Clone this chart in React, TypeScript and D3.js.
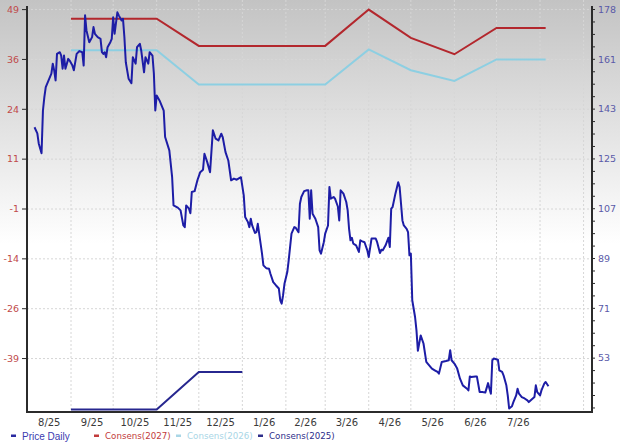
import * as d3 from 'd3';
import React from 'react';

// month labels shown under the x axis, one per month
const monthLabels = ['8/25', '9/25', '10/25', '11/25', '12/25', '1/26', '2/26', '3/26', '4/26', '5/26', '6/26', '7/26'];

// left axis (consensus) tick values and their printed labels
const leftTickValues = [49, 36.5, 24, 11.5, -1, -13.5, -26, -38.5];
const leftTickLabels = ['49', '36', '24', '11', '-1', '-14', '-26', '-39'];

// right axis (price) tick values and their printed labels
const rightTickValues = [178.4, 160.55, 142.7, 124.85, 107, 89.15, 71.3, 53.45];
const rightTickLabels = ['178', '161', '143', '125', '107', '89', '71', '53'];

const consens2027: [string, number][] = [
  ['2025-09-01', 46.7], ['2025-11-01', 46.7], ['2025-12-01', 39.9], ['2026-03-01', 39.9],
  ['2026-04-01', 49.0], ['2026-05-01', 41.9], ['2026-06-01', 37.8], ['2026-07-01', 44.4], ['2026-08-05', 44.4],
];
const consens2026: [string, number][] = [
  ['2025-09-01', 38.8], ['2025-11-01', 38.8], ['2025-12-01', 30.2], ['2026-03-01', 30.2],
  ['2026-04-01', 39.0], ['2026-05-01', 33.8], ['2026-06-01', 31.1], ['2026-07-01', 36.5], ['2026-08-05', 36.5],
];
const consens2025: [string, number][] = [
  ['2025-09-01', -51.3], ['2025-11-01', -51.3], ['2025-12-01', -41.9], ['2026-01-01', -41.9],
];

const priceDaily: [string, number][] = [
  ['2025-08-06', 136.2], ['2025-08-08', 134.0], ['2025-08-09', 130.4], ['2025-08-11', 126.9], ['2025-08-12', 142.2],
  ['2025-08-13', 147.0], ['2025-08-14', 150.6], ['2025-08-16', 153.0], ['2025-08-18', 155.4], ['2025-08-19', 159.0],
  ['2025-08-20', 156.6], ['2025-08-21', 153.0], ['2025-08-22', 162.5], ['2025-08-24', 163.1], ['2025-08-25', 161.9],
  ['2025-08-26', 157.2], ['2025-08-27', 161.9], ['2025-08-28', 157.2], ['2025-08-30', 160.7], ['2025-08-31', 160.1],
  ['2025-09-02', 158.3], ['2025-09-03', 156.6], ['2025-09-05', 162.5], ['2025-09-07', 163.5], ['2025-09-09', 163.1],
  ['2025-09-10', 158.3], ['2025-09-11', 176.3], ['2025-09-12', 170.9], ['2025-09-14', 166.7], ['2025-09-16', 168.5],
  ['2025-09-17', 172.1], ['2025-09-18', 169.7], ['2025-09-20', 168.5], ['2025-09-22', 167.9], ['2025-09-23', 163.1],
  ['2025-09-24', 162.5], ['2025-09-25', 163.1], ['2025-09-26', 161.3], ['2025-09-27', 164.9], ['2025-09-29', 166.7],
  ['2025-09-30', 167.9], ['2025-10-01', 175.6], ['2025-10-02', 169.7], ['2025-10-04', 177.4], ['2025-10-05', 176.3],
  ['2025-10-07', 174.5], ['2025-10-08', 175.1], ['2025-10-09', 168.5], ['2025-10-10', 159.5], ['2025-10-12', 153.6],
  ['2025-10-14', 152.0], ['2025-10-15', 161.3], ['2025-10-17', 159.0], ['2025-10-18', 164.9], ['2025-10-20', 166.1],
  ['2025-10-21', 163.7], ['2025-10-23', 155.9], ['2025-10-24', 161.3], ['2025-10-26', 159.0], ['2025-10-27', 163.1],
  ['2025-10-29', 161.9], ['2025-10-30', 155.4], ['2025-10-31', 142.2], ['2025-11-01', 147.6], ['2025-11-03', 145.8],
  ['2025-11-06', 142.2], ['2025-11-07', 132.7], ['2025-11-10', 127.9], ['2025-11-12', 118.3], ['2025-11-13', 108.2],
  ['2025-11-16', 107.4], ['2025-11-18', 106.4], ['2025-11-20', 101.0], ['2025-11-21', 100.4], ['2025-11-22', 108.2],
  ['2025-11-24', 107.0], ['2025-11-25', 105.4], ['2025-11-26', 113.0], ['2025-11-28', 113.3], ['2025-11-30', 117.2],
  ['2025-12-02', 120.1], ['2025-12-04', 121.0], ['2025-12-05', 126.7], ['2025-12-07', 123.7], ['2025-12-09', 120.1],
  ['2025-12-11', 135.1], ['2025-12-13', 132.1], ['2025-12-15', 131.5], ['2025-12-17', 133.9], ['2025-12-18', 132.7],
  ['2025-12-20', 127.3], ['2025-12-22', 124.3], ['2025-12-24', 117.2], ['2025-12-26', 117.8], ['2025-12-28', 117.4],
  ['2025-12-31', 118.3], ['2026-01-02', 111.8], ['2026-01-03', 104.0], ['2026-01-05', 102.2], ['2026-01-06', 100.4],
  ['2026-01-07', 103.4], ['2026-01-08', 101.0], ['2026-01-10', 98.3], ['2026-01-11', 98.6], ['2026-01-12', 101.6],
  ['2026-01-14', 94.5], ['2026-01-15', 90.9], ['2026-01-16', 86.7], ['2026-01-18', 85.7], ['2026-01-20', 85.5],
  ['2026-01-21', 83.7], ['2026-01-23', 80.7], ['2026-01-25', 79.5], ['2026-01-27', 78.4], ['2026-01-28', 74.2],
  ['2026-01-29', 73.0], ['2026-01-30', 76.0], ['2026-01-31', 80.1], ['2026-02-02', 84.3], ['2026-02-03', 88.5],
  ['2026-02-05', 98.1], ['2026-02-07', 100.4], ['2026-02-08', 100.2], ['2026-02-10', 98.6], ['2026-02-11', 108.8],
  ['2026-02-12', 111.2], ['2026-02-14', 113.3], ['2026-02-16', 113.6], ['2026-02-17', 113.6], ['2026-02-18', 103.4],
  ['2026-02-19', 113.6], ['2026-02-20', 105.2], ['2026-02-22', 103.4], ['2026-02-24', 100.4], ['2026-02-25', 92.1],
  ['2026-02-26', 90.9], ['2026-02-28', 95.0], ['2026-03-01', 98.1], ['2026-03-03', 101.0], ['2026-03-04', 114.8],
  ['2026-03-05', 110.6], ['2026-03-07', 111.2], ['2026-03-08', 110.6], ['2026-03-10', 107.8], ['2026-03-11', 102.8],
  ['2026-03-12', 113.6], ['2026-03-14', 112.4], ['2026-03-16', 109.4], ['2026-03-17', 106.4], ['2026-03-18', 99.8],
  ['2026-03-19', 95.7], ['2026-03-20', 96.6], ['2026-03-21', 94.5], ['2026-03-23', 93.9], ['2026-03-25', 91.5],
  ['2026-03-26', 95.7], ['2026-03-27', 95.4], ['2026-03-29', 95.0], ['2026-03-31', 92.1], ['2026-04-01', 89.7],
  ['2026-04-03', 96.3], ['2026-04-06', 96.3], ['2026-04-07', 95.0], ['2026-04-09', 91.1], ['2026-04-10', 92.3],
  ['2026-04-11', 92.1], ['2026-04-13', 93.9], ['2026-04-15', 96.6], ['2026-04-16', 93.3], ['2026-04-17', 107.0],
  ['2026-04-18', 107.6], ['2026-04-20', 112.4], ['2026-04-22', 116.5], ['2026-04-23', 114.8], ['2026-04-25', 102.8],
  ['2026-04-26', 101.0], ['2026-04-28', 99.8], ['2026-04-29', 98.6], ['2026-04-30', 90.3], ['2026-05-01', 90.9],
  ['2026-05-02', 74.2], ['2026-05-04', 68.2], ['2026-05-05', 63.4], ['2026-05-06', 56.1], ['2026-05-08', 61.6],
  ['2026-05-10', 58.7], ['2026-05-12', 52.1], ['2026-05-13', 51.5], ['2026-05-16', 49.7], ['2026-05-18', 49.1],
  ['2026-05-20', 48.5], ['2026-05-21', 47.9], ['2026-05-23', 52.1], ['2026-05-26', 52.4], ['2026-05-28', 52.7],
  ['2026-05-29', 56.3], ['2026-05-30', 52.7], ['2026-06-01', 51.5], ['2026-06-03', 49.7], ['2026-06-05', 46.1],
  ['2026-06-07', 43.7], ['2026-06-10', 42.5], ['2026-06-11', 41.9], ['2026-06-12', 46.9], ['2026-06-13', 46.7],
  ['2026-06-16', 46.9], ['2026-06-17', 46.9], ['2026-06-19', 41.3], ['2026-06-21', 41.3], ['2026-06-23', 41.1],
  ['2026-06-25', 44.5], ['2026-06-26', 42.5], ['2026-06-27', 40.7], ['2026-06-28', 52.7], ['2026-06-29', 53.3],
  ['2026-07-02', 52.9], ['2026-07-03', 49.1], ['2026-07-05', 48.5], ['2026-07-06', 47.3], ['2026-07-08', 43.7],
  ['2026-07-09', 40.1], ['2026-07-10', 35.4], ['2026-07-12', 36.2], ['2026-07-13', 37.7], ['2026-07-15', 40.1],
  ['2026-07-16', 42.5], ['2026-07-17', 40.7], ['2026-07-19', 39.5], ['2026-07-21', 39.0], ['2026-07-23', 38.3],
  ['2026-07-24', 37.7], ['2026-07-26', 38.6], ['2026-07-28', 39.5], ['2026-07-29', 43.7], ['2026-07-30', 41.3],
  ['2026-08-01', 40.1], ['2026-08-02', 41.9], ['2026-08-04', 44.3], ['2026-08-05', 44.9], ['2026-08-07', 43.4],
];

const width = 620;
const height = 443;
const left = 27;
const right = 592;
const top = 8;
const bottom = 412;

const parse = d3.utcParse('%Y-%m-%d');

const App = () => {
  const x = d3
    .scaleUtc()
    .domain([new Date(Date.UTC(2025, 7, 1)), new Date(Date.UTC(2026, 8, 7))])
    .range([left + 0.5, right]);
  const yLeft = d3.scaleLinear().domain([-51.9, 49.4]).range([bottom, top]);
  const yRight = d3.scaleLinear().domain([34.15, 178.94]).range([bottom, top]);

  const monthStarts = d3.utcMonth.range(new Date(Date.UTC(2025, 7, 1)), new Date(Date.UTC(2026, 8, 2)));
  const gridMonths = monthStarts.slice(1);

  const consLine = d3
    .line<[string, number]>()
    .x((d) => x(parse(d[0]) as Date))
    .y((d) => yLeft(d[1]));
  const priceLine = d3
    .line<[string, number]>()
    .x((d) => x(parse(d[0]) as Date))
    .y((d) => yRight(d[1]));

  const rightStep = (rightTickValues[0] - rightTickValues[1]) / 4;
  const minorTicks: number[] = [];
  for (let v = rightTickValues[0]; v >= yRight.domain()[0]; v -= rightStep) minorTicks.push(v);

  const legend = [
    { label: 'Price Daily', color: '#3b3bb0', mark: '#2a2aa0', x: 11, font: 'Liberation Sans', size: 10 },
    { label: 'Consens(2027)', color: '#c23b3b', mark: '#c23b3b', x: 94, font: 'DejaVu Sans', size: 8.7 },
    { label: 'Consens(2026)', color: '#a9d6e6', mark: '#a9d6e6', x: 176, font: 'DejaVu Sans', size: 8.7 },
    { label: 'Consens(2025)', color: '#2e2e8a', mark: '#2e2e8a', x: 258, font: 'DejaVu Sans', size: 8.7 },
  ];

  return (
    <svg width={width} height={height} style={{ position: 'absolute', left: 0, top: 0 }}>
      <defs>
        <linearGradient id="bg" x1="0" y1="0" x2="0" y2="1">
          <stop offset="0" stopColor="#c3c3c3" />
          <stop offset="0.55" stopColor="#ffffff" />
          <stop offset="1" stopColor="#ffffff" />
        </linearGradient>
      </defs>
      <rect width={width} height={height} fill="url(#bg)" />

      {/* grid */}
      {gridMonths.map((m, i) => (
        <line key={'vg' + i} x1={x(m)} x2={x(m)} y1={0} y2={bottom} stroke="#d6d6d6" strokeDasharray="2,2" />
      ))}
      {leftTickValues.map((v, i) => (
        <line key={'hg' + i} x1={left} x2={right} y1={yLeft(v)} y2={yLeft(v)} stroke="#d6d6d6" strokeDasharray="2,2" />
      ))}

      {/* consensus lines */}
      <path d={consLine(consens2027) || ''} fill="none" stroke="#b3272d" strokeWidth={2} />
      <path d={consLine(consens2026) || ''} fill="none" stroke="#8dcfe2" strokeWidth={2} />
      <path d={consLine(consens2025) || ''} fill="none" stroke="#27278f" strokeWidth={2} />

      {/* price */}
      <path d={priceLine(priceDaily) || ''} fill="none" stroke="#1d1da6" strokeWidth={2} strokeLinejoin="round" />

      {/* axes */}
      <line x1={left} x2={left} y1={6} y2={bottom + 1} stroke="#2b2b2b" strokeWidth={2} />
      <line x1={right} x2={right} y1={6} y2={bottom + 1} stroke="#2b2b2b" strokeWidth={2} />
      <line x1={left - 1} x2={right + 1} y1={bottom} y2={bottom} stroke="#2b2b2b" strokeWidth={2} />

      {leftTickValues.map((v, i) => (
        <g key={'lt' + i}>
          <line x1={left - 5} x2={left} y1={yLeft(v)} y2={yLeft(v)} stroke="#2b2b2b" />
          <text x={19} y={yLeft(v)} dy="0.35em" textAnchor="end" fontFamily="DejaVu Sans" fontSize={9.5} fill="#c04a4a">
            {leftTickLabels[i]}
          </text>
        </g>
      ))}

      {minorTicks.map((v, i) => (
        <line key={'mt' + i} x1={right} x2={right + 3} y1={yRight(v)} y2={yRight(v)} stroke="#2b2b2b" />
      ))}
      {rightTickValues.map((v, i) => (
        <text key={'rt' + i} x={598} y={yRight(v)} dy="0.35em" fontFamily="DejaVu Sans" fontSize={9.5} fill="#5a5aa8">
          {rightTickLabels[i]}
        </text>
      ))}

      {monthLabels.map((lbl, i) => {
        const a = x(monthStarts[i]);
        const b = x(monthStarts[i + 1]);
        return (
          <text key={'xl' + i} x={(a + b) / 2} y={425.5} textAnchor="middle" fontFamily="DejaVu Sans" fontSize={10} fill="#3a3a3a">
            {lbl}
          </text>
        );
      })}

      {/* legend */}
      {legend.map((l) => (
        <g key={l.label}>
          <rect x={l.x} y={434.5} width={5} height={2.5} fill={l.mark} />
          <text x={l.x + 11} y={436} dy="0.35em" fontFamily={l.font} fontSize={l.size} fill={l.color}>
            {l.label}
          </text>
        </g>
      ))}
    </svg>
  );
};

export default App;
